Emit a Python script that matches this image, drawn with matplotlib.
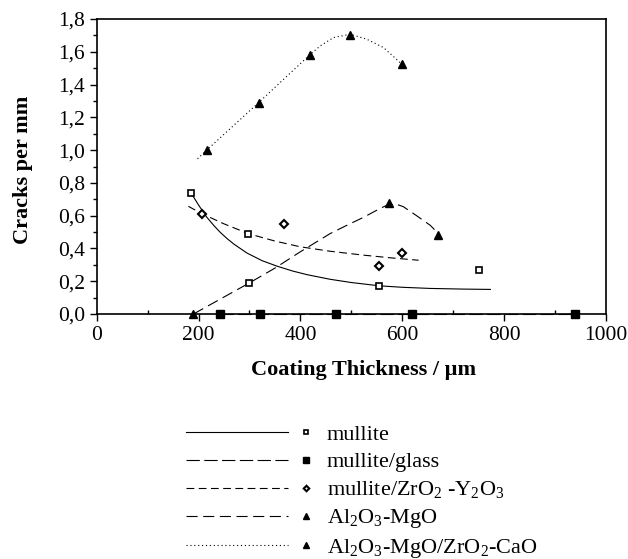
import matplotlib
matplotlib.use('Agg')
import matplotlib.pyplot as plt
from matplotlib.lines import Line2D
from matplotlib.legend_handler import HandlerBase

plt.rcParams['font.family'] = ['Liberation Serif', 'DejaVu Serif']
plt.rcParams['mathtext.fontset'] = 'custom'
plt.rcParams['mathtext.rm'] = 'Liberation Serif'
plt.rcParams['mathtext.it'] = 'Liberation Serif:italic'
plt.rcParams['mathtext.bf'] = 'Liberation Serif:bold'
plt.rcParams['mathtext.default'] = 'regular'

# ---------------- data ----------------
series_labels = ['mullite', 'mullite/glass', 'mullite/ZrO$_2$ -Y$_2$O$_3$',
                 'Al$_2$O$_3$-MgO', 'Al$_2$O$_3$-MgO/ZrO$_2$-CaO']

mullite_x = [185, 298, 300, 555, 750]
mullite_y = [0.74, 0.49, 0.19, 0.17, 0.27]
glass_x = [242, 321, 470, 620, 940]
glass_y = [0.0, 0.0, 0.0, 0.0, 0.0]
zry_x = [206, 368, 555, 599]
zry_y = [0.61, 0.55, 0.29, 0.37]
mgo_x = [190, 573, 671]
mgo_y = [0.0, 0.68, 0.48]
cao_x = [216, 318, 418, 498, 599]
cao_y = [1.0, 1.29, 1.58, 1.705, 1.525]

# trend lines
mullite_fit_x = [185, 200, 215, 230, 242, 256, 270, 295, 325, 354, 385, 413, 458, 500, 555, 600, 655, 720, 773]
mullite_fit_y = [0.74, 0.665, 0.595, 0.54, 0.50, 0.46, 0.425, 0.372, 0.325, 0.292, 0.262, 0.240, 0.212, 0.192, 0.172, 0.163, 0.156, 0.152, 0.15]
glass_fit_x = [242, 940]
glass_fit_y = [0.0, 0.0]
zry_fit_x = [180, 206, 250, 298, 350, 400, 458, 524, 580, 632]
zry_fit_y = [0.657, 0.613, 0.55, 0.49, 0.445, 0.41, 0.383, 0.359, 0.342, 0.328]
mgo_fit_x = [190, 245, 300, 350, 400, 458, 491, 524, 557, 573, 590, 602, 628, 655, 671]
mgo_fit_y = [0.0, 0.095, 0.19, 0.28, 0.38, 0.49, 0.541, 0.59, 0.645, 0.668, 0.668, 0.655, 0.60, 0.541, 0.49]
cao_fit_x = [198, 216, 318, 399, 418, 439, 465, 498, 530, 563, 599]
cao_fit_y = [0.947, 1.0, 1.29, 1.525, 1.58, 1.636, 1.687, 1.707, 1.677, 1.626, 1.525]

x_ticks = [0, 200, 400, 600, 800, 1000]
x_tick_labels = ['0', '200', '400', '600', '800', '1000']
y_ticks = [0.0, 0.2, 0.4, 0.6, 0.8, 1.0, 1.2, 1.4, 1.6, 1.8]
y_tick_labels = ['0,0', '0,2', '0,4', '0,6', '0,8', '1,0', '1,2', '1,4', '1,6', '1,8']
x_minor = [100, 300, 500, 700, 900]
y_minor = [0.1, 0.3, 0.5, 0.7, 0.9, 1.1, 1.3, 1.5, 1.7]

# ---------------- figure ----------------
W, H = 628, 559
fig = plt.figure(figsize=(W / 100, H / 100), dpi=100)
ax = fig.add_axes([96.7 / W, 1 - 314 / H, (606 - 96.7) / W, (314 - 19) / H])

lw = 0.8
fits = [
    (mullite_fit_x, mullite_fit_y, '-'),
    (glass_fit_x, glass_fit_y, (0, (12, 4))),
    (zry_fit_x, zry_fit_y, (0, (7, 4))),
    (mgo_fit_x, mgo_fit_y, (0, (10, 5))),
    (cao_fit_x, cao_fit_y, (0, (1, 2.5))),
]
fit_lines = []
for fx, fy, ls in fits:
    ln, = ax.plot(fx, fy, color='black', lw=lw, linestyle=ls, clip_on=False, zorder=2)
    fit_lines.append(ln)

pts = [
    (mullite_x, mullite_y, dict(marker='s', ms=5, mfc='white', mec='black', mew=1.2)),
    (glass_x, glass_y, dict(marker='s', ms=5.5, mfc='black', mec='black', mew=1)),
    (zry_x, zry_y, dict(marker='D', ms=4, mfc='white', mec='black', mew=1.5)),
    (mgo_x, mgo_y, dict(marker='^', ms=6, mfc='black', mec='black', mew=1)),
    (cao_x, cao_y, dict(marker='^', ms=6, mfc='black', mec='black', mew=1)),
]
pt_lines = []
for px, py, kw in pts:
    ln, = ax.plot(px, py, linestyle='None', clip_on=False, zorder=3, **kw)
    pt_lines.append(ln)

ax.set_xlim(0, 1000)
ax.set_ylim(0, 1.8)
ax.set_xticks(x_ticks)
ax.set_xticklabels(x_tick_labels)
ax.set_yticks(y_ticks)
ax.set_yticklabels(y_tick_labels)
ax.set_xticks(x_minor, minor=True)
ax.set_yticks(y_minor, minor=True)
ax.tick_params(which='major', direction='out', length=5, width=1, labelsize=15.5, pad=3.5)
ax.tick_params(axis='x', which='minor', direction='in', length=3, width=1)
ax.tick_params(axis='y', which='minor', direction='out', length=3, width=1)
for sp in ax.spines.values():
    sp.set_linewidth(1.2)

fig.text(364 / W, 1 - 370 / H, 'Coating Thickness / µm', ha='center', va='center',
         fontsize=16, fontweight='bold')
fig.text(23 / W, 1 - 170 / H, 'Cracks per mm', ha='center', va='center',
         rotation=90, fontsize=16, fontweight='bold')


class LineThenMarker(HandlerBase):
    def create_artists(self, legend, orig_handle, xdescent, ydescent, width,
                       height, fontsize, trans):
        line_h, mk_h = orig_handle
        y = height / 2 - ydescent
        x0 = -xdescent
        ln = Line2D([x0, x0 + width * 0.85], [y, y])
        ln.update_from(line_h)
        ln.set_marker('None')
        ln.set_transform(trans)
        mk = Line2D([x0 + width], [y])
        mk.update_from(mk_h)
        mk.set_linestyle('None')
        mk.set_markersize(mk_h.get_markersize() * 0.7)
        mk.set_transform(trans)
        return [ln, mk]


handles = [(fl, pl) for fl, pl in zip(fit_lines, pt_lines)]
fs = 16
fpx = fs * 100 / 72
fig.legend(handles, series_labels, handler_map={tuple: LineThenMarker()},
           loc='upper left', bbox_to_anchor=(186 / W, 1 - 421 / H),
           frameon=False, borderpad=0, borderaxespad=0,
           handlelength=120 / fpx, handletextpad=21 / fpx, handleheight=1.15,
           labelspacing=4.3 / fpx, fontsize=fs)

fig.savefig('out.png', dpi=100)
